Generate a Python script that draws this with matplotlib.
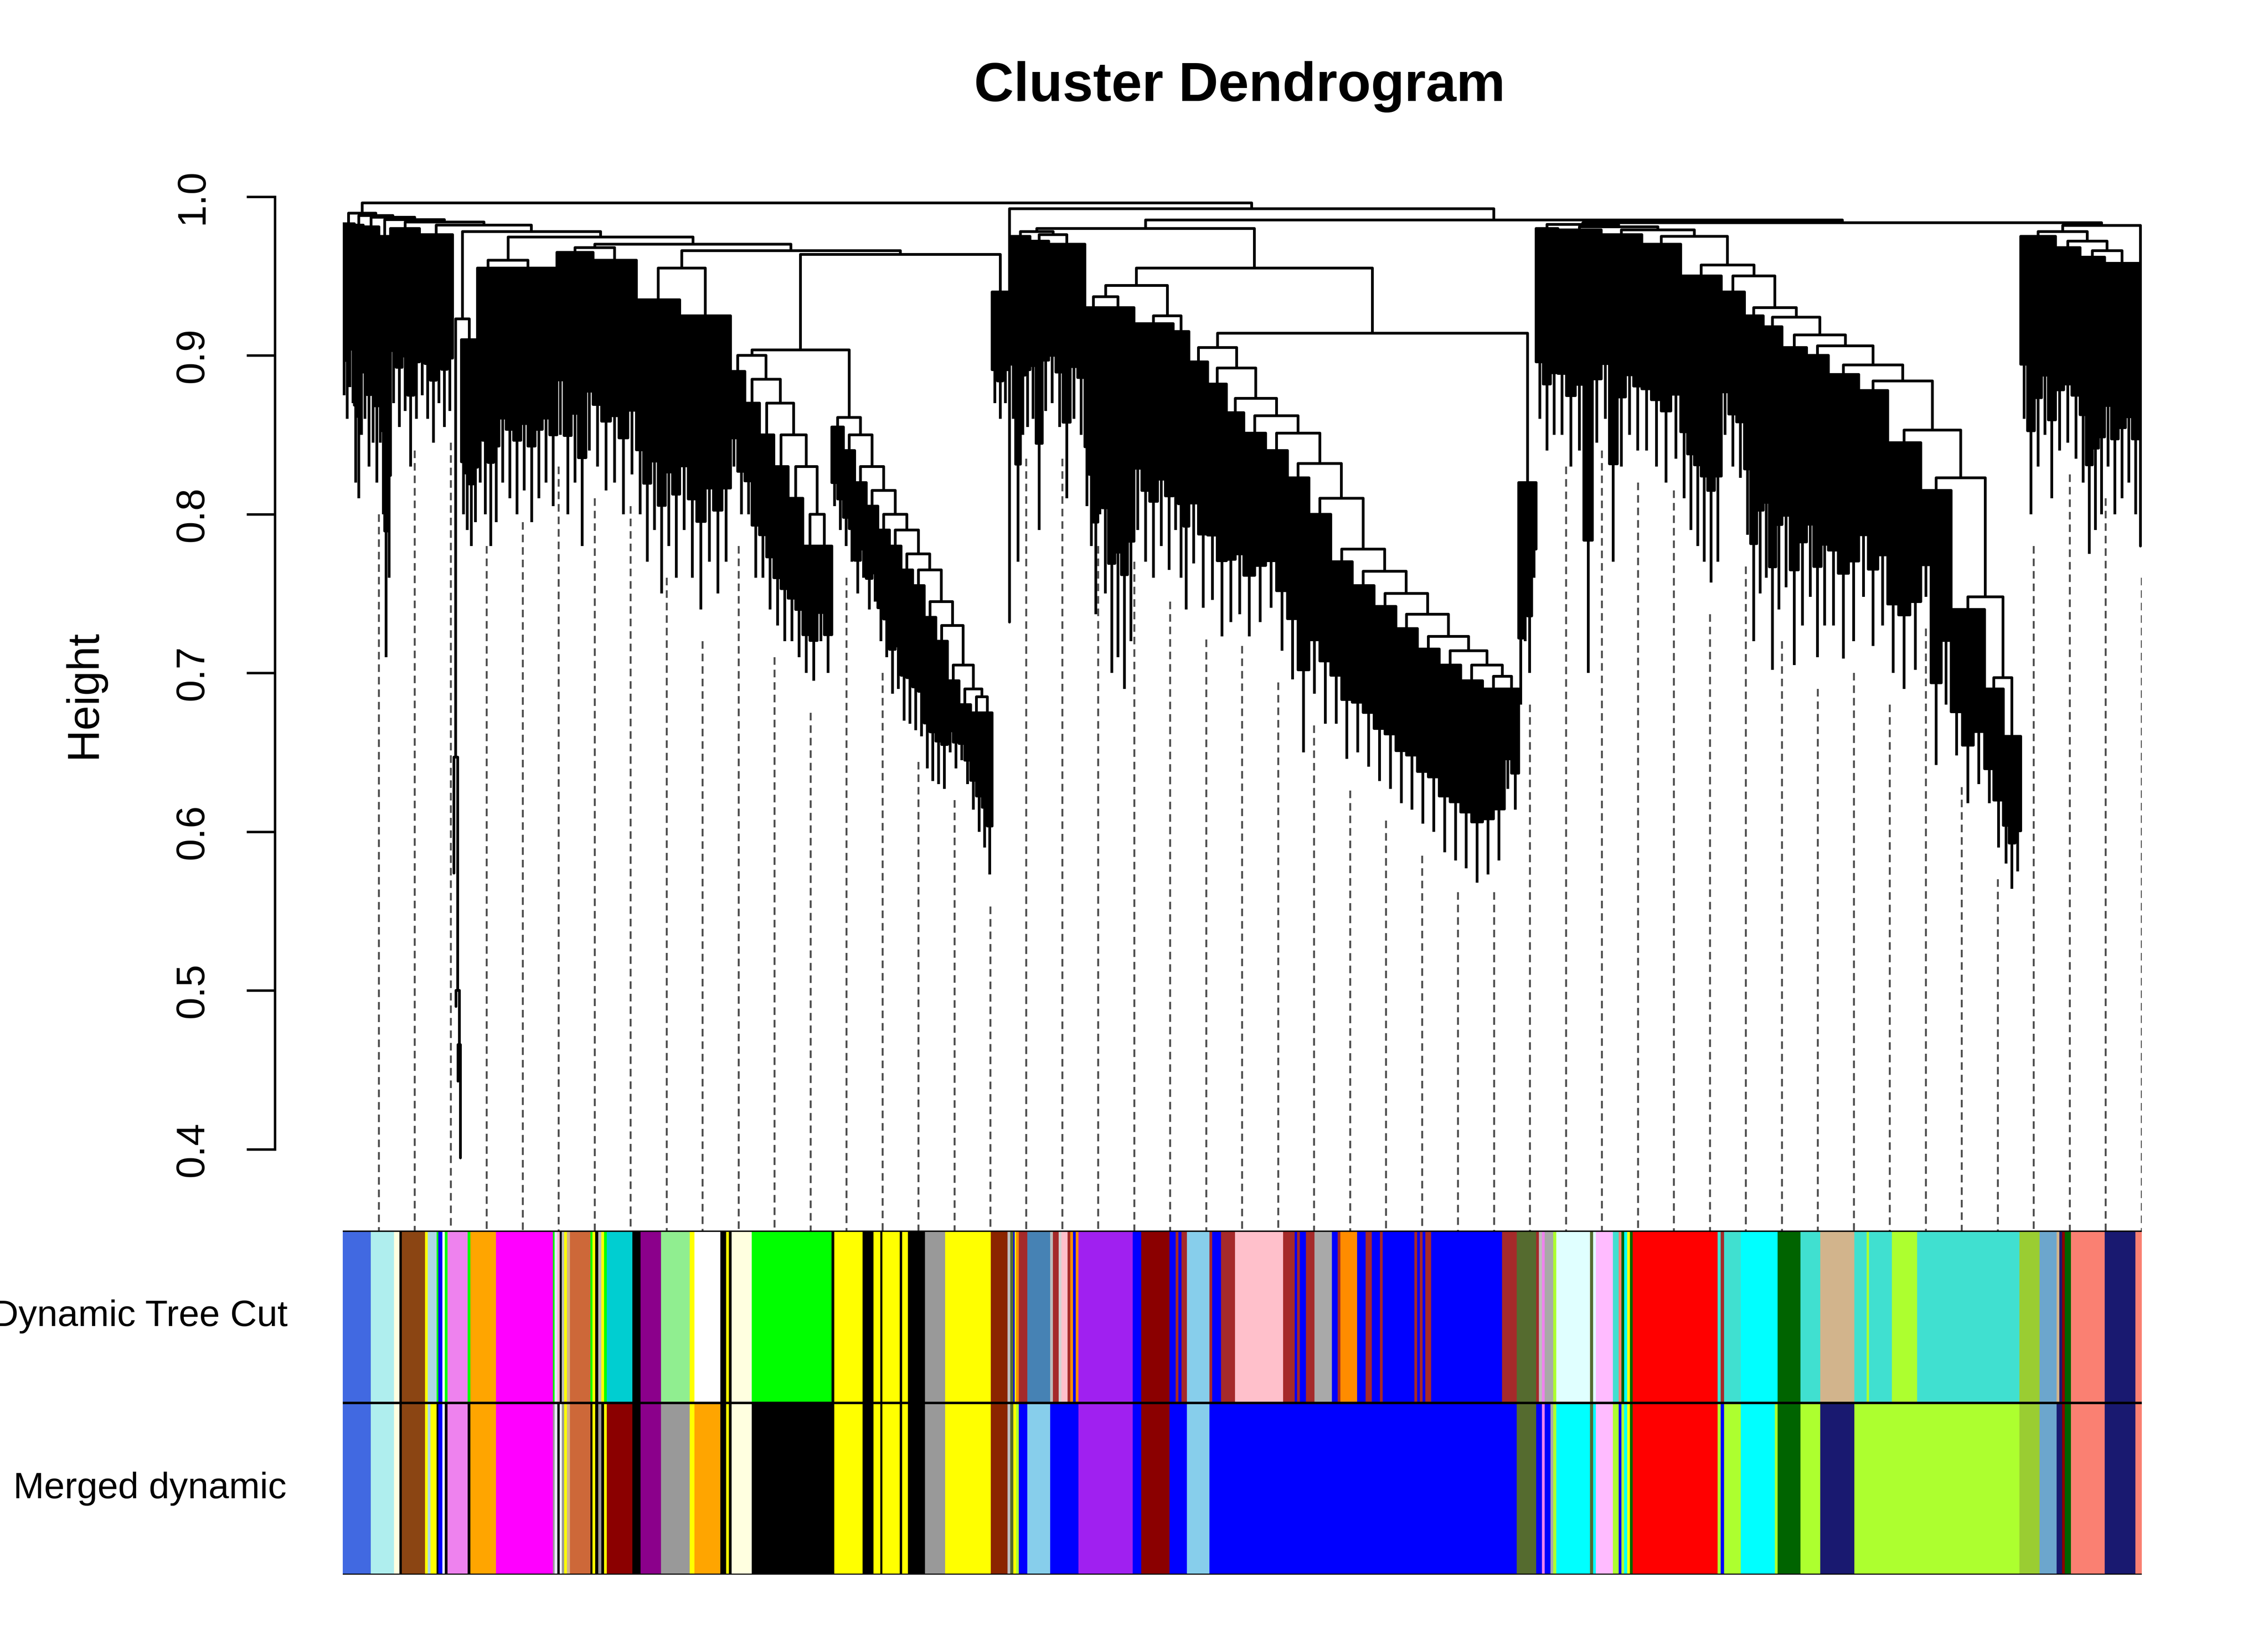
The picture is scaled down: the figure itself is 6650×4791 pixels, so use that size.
import numpy as np
import matplotlib
matplotlib.use("Agg")
import matplotlib.pyplot as plt
from matplotlib.collections import LineCollection, PolyCollection

plt.rcParams['font.family'] = ['Liberation Sans', 'DejaVu Sans']

# ---------------------------------------------------------------- colours (R names)
R_COLORS = {
    'royalblue': '#4169E1', 'paleturquoise': '#AFEEEE', 'lightyellow': '#FFFFE0',
    'black': '#000000', 'saddlebrown': '#8B4513', 'yellow': '#FFFF00',
    'lightblue': '#ADD8E6', 'green': '#00FF00', 'blue': '#0000FF', 'white': '#FFFFFF',
    'violet': '#EE82EE', 'orange': '#FFA500', 'magenta': '#FF00FF', 'lavender': '#E6E6FA',
    'pink': '#FFC0CB', 'grey': '#BEBEBE', 'tan': '#D2B48C', 'sienna3': '#CD6839',
    'darkturquoise': '#00CED1', 'darkmagenta': '#8B008B', 'lightgreen': '#90EE90',
    'grey60': '#999999', 'orangered4': '#8B2500', 'darkolivegreen': '#556B2F',
    'darkorange': '#FF8C00', 'brown': '#A52A2A', 'steelblue': '#4682B4',
    'lightgrey': '#D3D3D3', 'purple': '#A020F0', 'darkred': '#8B0000',
    'skyblue': '#87CEEB', 'darkgrey': '#A9A9A9', 'greenyellow': '#ADFF2F',
    'lightcyan': '#E0FFFF', 'plum1': '#FFBBFF', 'turquoise': '#40E0D0',
    'salmon': '#FA8072', 'darkgreen': '#006400', 'cyan': '#00FFFF', 'red': '#FF0000',
    'yellowgreen': '#9ACD32', 'skyblue3': '#6CA6CD', 'midnightblue': '#191970',
}

# ---------------------------------------------------------------- module colour runs (gene order)
dyn_colors = ['royalblue', 'paleturquoise', 'lightyellow', 'black', 'saddlebrown', 'yellow', 'lightblue',
              'green', 'blue', 'white', 'green', 'violet', 'green', 'orange', 'magenta', 'green',
              'lavender', 'pink', 'black', 'grey', 'yellow', 'tan', 'sienna3', 'green', 'yellow', 'black',
              'grey', 'yellow', 'green', 'darkturquoise', 'black', 'darkmagenta', 'lightgreen', 'yellow',
              'white', 'black', 'yellow', 'black', 'lightyellow', 'green', 'black', 'yellow', 'black',
              'yellow', 'black', 'yellow', 'black', 'yellow', 'black', 'grey60', 'yellow', 'orangered4',
              'grey', 'darkolivegreen', 'blue', 'yellow', 'darkorange', 'brown', 'steelblue', 'grey',
              'brown', 'lightgrey', 'pink', 'brown', 'darkorange', 'blue', 'darkorange', 'purple', 'blue',
              'darkred', 'blue', 'brown', 'blue', 'brown', 'skyblue', 'brown', 'blue', 'brown', 'pink',
              'brown', 'blue', 'brown', 'blue', 'brown', 'darkgrey', 'blue', 'brown', 'darkorange', 'blue',
              'brown', 'blue', 'brown', 'blue', 'brown', 'blue', 'brown', 'blue', 'brown', 'blue', 'brown',
              'darkolivegreen', 'brown', 'grey', 'violet', 'darkgrey', 'greenyellow', 'lightcyan',
              'darkolivegreen', 'lightcyan', 'plum1', 'turquoise', 'salmon', 'darkgreen', 'cyan', 'yellow',
              'darkgreen', 'red', 'turquoise', 'brown', 'turquoise', 'cyan', 'darkgreen', 'turquoise', 'tan',
              'turquoise', 'greenyellow', 'turquoise', 'greenyellow', 'turquoise', 'yellowgreen', 'skyblue3',
              'tan', 'midnightblue', 'darkred', 'darkgreen', 'salmon', 'midnightblue', 'salmon']
dyn_ends = [19.5, 35.5, 39.3, 41.1, 57.1, 59.0, 65.0,
            66.3, 69.0, 70.7, 72.6, 86.6, 88.3, 106.1, 145.4, 146.7,
            148.6, 150.2, 151.6, 153.2, 155.1, 157.3, 171.3, 172.7, 174.6, 176.8,
            178.9, 180.8, 182.7, 200.3, 206.0, 220.1, 239.9, 243.4,
            261.2, 265.3, 267.2, 269.1, 282.9, 338.1, 340.0, 359.5, 367.1,
            371.7, 373.3, 385.2, 386.8, 390.9, 402.8, 416.7, 448.1, 459.8,
            461.6, 463.8, 464.8, 465.7, 467.6, 473.5, 489.3, 491.2,
            495.2, 497.1, 501.2, 503.1, 505.0, 506.9, 508.7, 546.4, 552.3,
            571.8, 575.9, 577.8, 579.9, 583.7, 599.4, 601.3, 607.3, 617.0, 650.3,
            658.2, 660.0, 661.9, 666.0, 672.0, 683.9, 688.0, 689.8, 701.5, 707.4,
            711.5, 717.2, 719.1, 741.0, 742.9, 744.8, 746.7, 748.6, 752.6, 801.6, 811.7,
            825.2, 827.1, 829.2, 831.1, 837.1, 839.1, 862.4,
            864.7, 866.6, 878.3, 882.2, 884.2, 886.1, 888.1, 890.0,
            892.0, 950.7, 952.9, 955.1, 966.8, 992.1, 1008.0, 1021.6, 1045.2,
            1053.6, 1055.3, 1071.1, 1088.7, 1159.3, 1173.3, 1185.0,
            1186.9, 1188.9, 1190.8, 1195.0, 1218.4, 1239.5, 1243.7]

mrg_colors = ['royalblue', 'paleturquoise', 'lightyellow', 'black', 'saddlebrown', 'yellow', 'lightblue',
              'yellow', 'black', 'blue', 'white', 'black', 'violet', 'black', 'orange', 'magenta', 'grey60',
              'lavender', 'black', 'white', 'grey60', 'yellow', 'tan', 'sienna3', 'black', 'yellow', 'black',
              'grey60', 'black', 'yellow', 'darkred', 'black', 'darkmagenta', 'grey60', 'yellow', 'orange',
              'black', 'yellow', 'black', 'lightyellow', 'black', 'yellow', 'black', 'yellow', 'black',
              'yellow', 'black', 'yellow', 'black', 'grey60', 'yellow', 'orangered4', 'grey',
              'darkolivegreen', 'yellow', 'greenyellow', 'blue', 'skyblue', 'blue', 'purple', 'blue',
              'darkred', 'blue', 'skyblue', 'blue', 'darkolivegreen', 'blue', 'violet', 'blue', 'darkgrey',
              'greenyellow', 'cyan', 'darkolivegreen', 'cyan', 'plum1', 'greenyellow', 'blue',
              'greenyellow', 'cyan', 'yellow', 'darkgreen', 'red', 'greenyellow', 'blue', 'greenyellow',
              'cyan', 'greenyellow', 'darkgreen', 'greenyellow', 'midnightblue', 'greenyellow',
              'yellowgreen', 'skyblue3', 'midnightblue', 'darkred', 'darkgreen', 'salmon', 'midnightblue',
              'salmon']
mrg_ends = [19.5, 35.5, 39.3, 41.1, 57.1, 59.0, 60.9,
            65.0, 66.3, 69.0, 70.7, 72.6, 86.6, 88.3, 106.1, 145.4, 146.7,
            148.6, 150.2, 151.6, 153.2, 155.1, 157.3, 171.3, 172.7, 174.6, 176.8,
            178.9, 180.8, 182.7, 200.3, 206.0, 220.1, 239.9, 243.4, 261.2,
            265.3, 267.2, 269.1, 282.9, 340.0, 359.5, 367.1, 371.7, 373.3,
            385.2, 386.8, 390.9, 402.8, 416.7, 448.1, 459.8, 461.6,
            463.8, 465.7, 467.6, 473.5, 489.3, 508.7, 546.4, 552.3,
            571.8, 583.7, 599.4, 811.7, 825.2, 829.2, 831.1, 835.2, 837.1,
            839.1, 862.4, 864.7, 866.6, 878.3, 882.2, 884.2,
            886.1, 888.1, 890.0, 892.0, 950.7, 952.9, 955.1, 966.8,
            990.4, 992.1, 1008.0, 1021.6, 1045.2, 1159.3,
            1173.3, 1185.0, 1188.9, 1190.8, 1195.0, 1218.4, 1239.5,
            1243.7]

# ---------------------------------------------------------------- dendrogram data
# bundle of genes: (width, internal top height, bottom heights ...); single leaf: (width, bottom height)
# internal merge: [height, left, right]
Aa = (8, .983, .875, .86, .88, .87)
Ab = (6, .982, .82, .81, .85)
Ac = (11, .981, .86, .83, .845, .82)
Ad = (8, .975, .845, .80, .71, .76)
Ae = (20, .980, .87, .855, .865, .83, .86)
Af = (23, .976, .875, .86, .845, .87, .855, .865)
long_leaves = [(1.5, .574), (1.5, .49), (1.5, .443), (1.5, .3945)]
long_merges = [.647, .50, .466]
A7a = (11, .91, .80, .79, .78, .795)
A7b = (15, .955, .82, .80, .78, .795)
A7c = (40, .955, .82, .81, .80, .815, .795, .81, .82, .805)
A8a = (25, .965, .85, .80, .82, .78, .84)
A8b = (30, .960, .83, .815, .82, .80, .825)
A8c = (30, .935, .80, .77, .79, .75, .78, .76)
A8d = (35, .925, .79, .76, .74, .77, .75, .77)
A12_merges = [.90, .885, .87, .85, .83, .80]
A12_parts = [(10, .89, .83, .80), (10, .87, .80, .76), (10, .85, .76, .74), (10, .83, .73, .72),
             (10, .81, .72, .71), (10, .78, .70, .695), (10, .78, .72, .70)]
A13_merges = [.861, .85, .83, .815, .80, .79, .775, .765, .745, .73, .705, .69, .685]
A13_parts = [(8, .855, .805, .79), (8, .84, .78, .77), (8, .82, .75, .76), (8, .805, .74, .745),
             (8, .79, .72, .71), (8, .78, .687, .69), (8, .765, .67, .668), (8, .755, .664, .66),
             (8, .735, .64, .632), (8, .72, .63, .627), (8, .695, .65, .64), (8, .68, .645, .63),
             (8, .675, .614, .60), (7, .675, .59, .573)]
A14 = (11, .94, .87, .86, .87)
A_merges = [.9895, .988, .987, .9855, .984, .982, .978, .9745, .970, .966]

Cout = (2, .732)
Cl_a = (13, .975, .86, .77, .85, .855)
Cl_b = (13, .972, .86, .79, .865)
Cl_c = (25, .970, .87, .855, .81, .86, .85)
Cm_a = (12, .93, .805, .78, .737, .80)
Cm_b = (22, .93, .75, .70, .71, .69, .72)
Cm_c = (27, .92, .79, .77, .76, .78, .765)
Cm_d = (11, .915, .79, .76, .74)
Cst_merges = [.905, .892, .873, .862, .851, .832, .81, .778, .764, .75, .737, .723, .714, .705, .698]
Cst_parts = [(13, .896, .769, .741), (13, .882, .746, .723), (12, .864, .732, .737), (15, .851, .723, .732),
             (15, .84, .741, .714), (15, .823, .696, .65), (15, .80, .687, .668), (15, .77, .668, .646),
             (15, .755, .65, .641), (15, .742, .632, .627), (15, .728, .618, .614), (15, .715, .605, .60),
             (15, .705, .587, .582), (15, .695, .577, .568), (15, .69, .573, .582), (10, .69, .627, .614)]
Cright = (12, .82, .68, .72, .70, .76)

Ea = (15, .980, .86, .84, .85)
Eb = (30, .979, .85, .83, .84, .70, .845)
Ec = (28, .976, .86, .77, .83, .85, .84)
Ed = (27, .970, .84, .83, .82, .835)
Ee = (28, .950, .81, .79, .78, .77, .757, .77)
Est_merges = [.950, .93, .924, .913, .906, .894, .884, .853, .823, .748, .697]
Est_parts = [(16, .94, .85, .83, .823), (13, .925, .787, .72, .75), (13, .918, .76, .702, .74),
             (17, .905, .754, .705, .73), (15, .90, .748, .71, .73), (21, .888, .73, .709, .72),
             (20, .878, .748, .717, .73), (23, .845, .70, .69, .702), (21, .815, .748, .642, .68),
             (23, .74, .648, .618, .63), (13, .69, .618, .59), (12, .66, .58, .564, .575)]
E_merges = [.9825, .981, .979, .975]

Fa = (24, .975, .86, .80, .83, .85, .81)
Fb = (17, .968, .84, .845, .835)
Fc = (17, .962, .82, .775, .79, .80)
Fd = (24, .958, .83, .80, .81, .82, .80)
F_merges = [.978, .972, .966]
Fleaf = (1.7, .78)

top_heights = {'root': .9961, 'B': .9925, 'R1': .9854, 'Q': .9836, 'F': .9818}


def chain(merges, parts):
    node = parts[-1]
    for h, p in zip(reversed(merges), reversed(parts[:-1])):
        node = [h, p, node]
    return node


LongSub = [.923, chain(long_merges, long_leaves), A7a]
G = [.9636, [.9035, chain(A12_merges, A12_parts), chain(A13_merges, A13_parts)], A14]
A = chain(A_merges, [Aa, Ab, Ac, Ad, Ae, Af, LongSub, [.96, A7b, A7c], [.968, A8a, A8b],
                     [.955, A8c, A8d], G])
Cmain = [.98, [.978, Cl_a, [.976, Cl_b, Cl_c]],
         [.955, [.944, [.937, Cm_a, Cm_b], [.925, Cm_c, Cm_d]],
          [.914, chain(Cst_merges, Cst_parts), Cright]]]
E = chain(E_merges, [Ea, Eb, Ec, Ed, [.957, Ee, chain(Est_merges, Est_parts)]])
F = [top_heights['F'], chain(F_merges, [Fa, Fb, Fc, Fd]), Fleaf]
tree = [top_heights['root'], A,
        [top_heights['B'], Cout,
         [top_heights['R1'], Cmain, [top_heights['Q'], E, F]]]]

# ---------------------------------------------------------------- layout (hclust style)
SOLID = 0.7          # share of a dense bundle drawn as solid black before single leaves hang
links, polys, hairs, spans = [], [], [], []


def place(node, u0):
    if isinstance(node, tuple):
        w = node[0]
        if len(node) == 2:
            spans.append((u0, u0 + w, [node[1]]))
            return u0 + w / 2, node[1], u0 + w
        top, bots = node[1], node[2:]
        xs = np.linspace(u0, u0 + w, len(bots) + 1)
        cores = [top - SOLID * (top - b) for b in bots]
        verts = [(u0, top), (u0 + w, top)]
        for j in range(len(bots) - 1, -1, -1):
            verts += [(xs[j + 1], cores[j]), (xs[j], cores[j])]
        polys.append(verts)
        for j, b in enumerate(bots):
            xc = 0.5 * (xs[j] + xs[j + 1])
            hairs.append([(xc, cores[j]), (xc, b)])
        spans.append((u0, u0 + w, list(bots)))
        return u0 + w / 2, top, u0 + w
    h, left, right = node
    xl, hl, u1 = place(left, u0)
    xr, hr, u2 = place(right, u1)
    links.append([(xl, hl), (xl, h), (xr, h), (xr, hr)])
    return (xl + xr) / 2, h, u2


place(tree, 0.0)
total = dyn_ends[-1]

# ---------------------------------------------------------------- figure
W, H = 1568.0, 1130.0
fig = plt.figure(figsize=(16.625, 11.9775), dpi=400)
LW = 1.45

ax = fig.add_axes([237 / W, 1 - 851 / H, total / W, (851 - 120) / H])
ylo = 1 - (851 - 136) / 1098
yhi = 1 + 16 / 1098
ax.set_xlim(0, total)
ax.set_ylim(ylo, yhi)

ax.add_collection(PolyCollection(polys, facecolors='black', edgecolors='black', linewidths=LW,
                                 joinstyle='round'))
ax.add_collection(LineCollection(hairs, colors='black', linewidths=LW, capstyle='butt'))
ax.add_collection(LineCollection(links, colors='black', linewidths=LW, capstyle='round',
                                 joinstyle='round'))

# guide lines (50 evenly spaced)
guides = []
for i in range(1, 51):
    ug = total * i / 50
    bottom = ylo
    for (a, b, bots) in spans:
        if a <= ug <= b + 1e-6:
            k = min(int((ug - a) / (b - a) * len(bots)), len(bots) - 1)
            bottom = bots[k]
            break
    guides.append([(ug, bottom - 0.02), (ug, ylo)])
ax.add_collection(LineCollection(guides, colors='#4D4D4D', linewidths=1.0,
                                 linestyles=[(0, (4.0, 2.6))]))

for s in ['top', 'right', 'bottom']:
    ax.spines[s].set_visible(False)
ax.spines['left'].set_position(('outward', 35.9))
ax.spines['left'].set_bounds(0.4, 1.0)
ax.spines['left'].set_linewidth(1.3)
ax.set_xticks([])
ax.set_yticks([0.4, 0.5, 0.6, 0.7, 0.8, 0.9, 1.0])
ax.set_yticklabels(['0.4', '0.5', '0.6', '0.7', '0.8', '0.9', '1.0'])
ax.tick_params(axis='y', length=15, width=1.3, pad=18.5, labelsize=21, labelrotation=90)
for t in ax.get_yticklabels():
    t.set_va('center')

fig.text(58 / W, 1 - 480 / H, 'Height', rotation=90, ha='center', va='center', fontsize=23.5)
fig.text(857 / W, 1 - 60 / H, 'Cluster Dendrogram', ha='center', va='center', fontsize=29,
         fontweight='bold')

# ---------------------------------------------------------------- colour rows
cax = fig.add_axes([237 / W, 1 - 1089 / H, total / W, (1089 - 851) / H])
cax.set_xlim(0, total)
cax.set_ylim(0, 2)
for row, (cols, ends) in enumerate([(mrg_colors, mrg_ends), (dyn_colors, dyn_ends)]):
    starts = [0.0] + ends[:-1]
    cax.broken_barh([(s, e - s) for s, e in zip(starts, ends)], (row, 1),
                    facecolors=[R_COLORS[c] for c in cols], edgecolors='face', linewidths=0.3)
for yv in (0, 1, 2):
    cax.axhline(yv, color='black', lw=1.3)
cax.axis('off')
cax.text(-38, 1.5, 'Dynamic Tree Cut', ha='right', va='center', fontsize=19.5, clip_on=False)
cax.text(-39, 0.5, 'Merged dynamic', ha='right', va='center', fontsize=19.5, clip_on=False)

fig.savefig('out.png', dpi=400, facecolor='white')
